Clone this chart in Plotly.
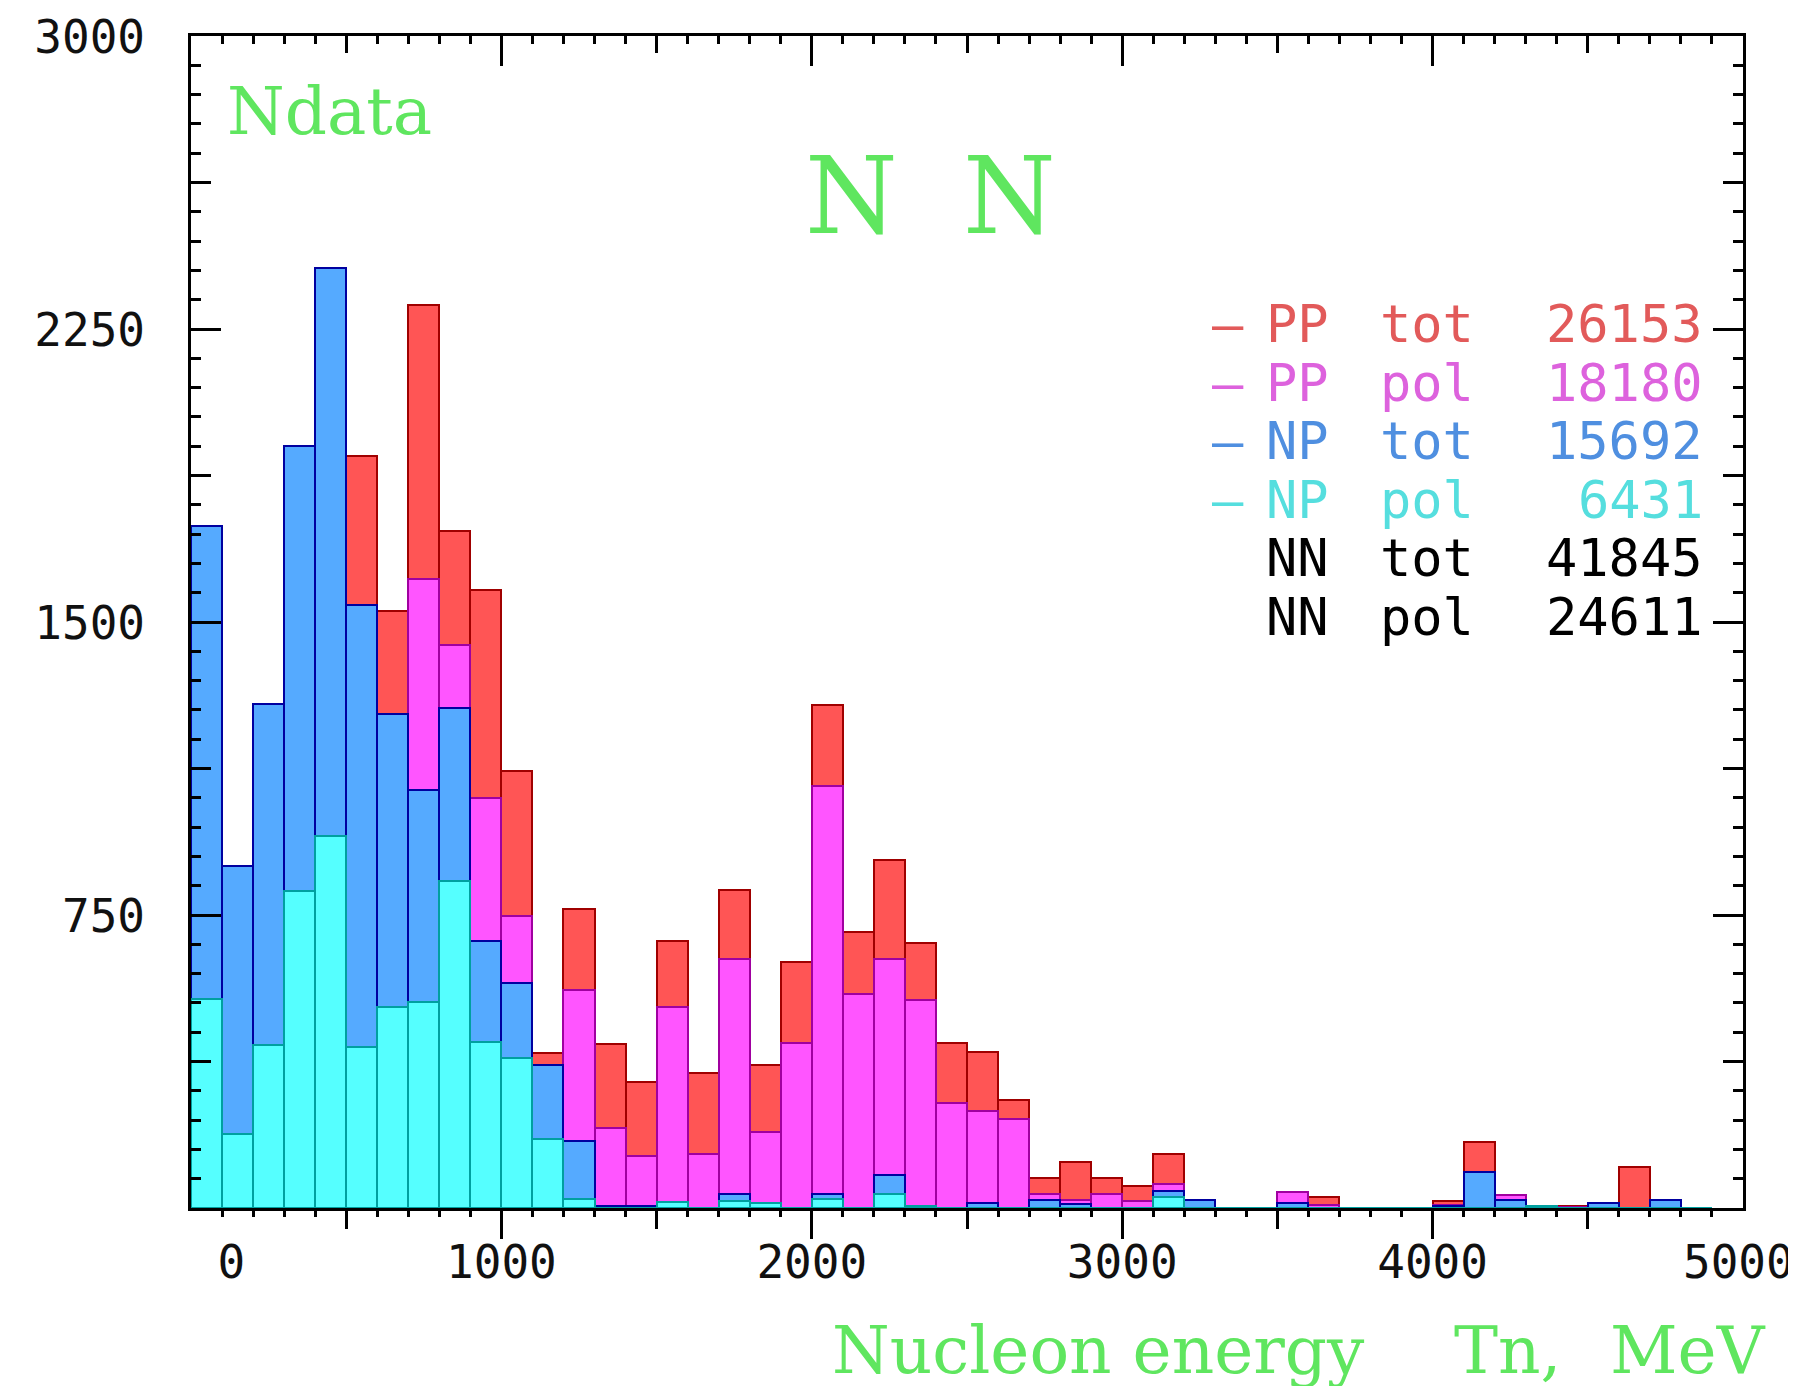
import plotly.graph_objects as go

# ---------------- data (100 MeV bins, left edges) ----------------
bin_start = list(range(0, 4900, 100))

pp_tot = [1300, 700, 1000, 1200, 1500, 1924, 1528, 2311, 1732, 1582,
          1119, 398, 765, 420, 323, 683, 345, 815, 367, 629,
          1287, 706, 891, 678, 422, 400, 276, 78, 117, 78,
          57, 139, 0, 0, 0, 40, 28, 0, 0, 0,
          19, 169, 30, 0, 4, 0, 106, 0, 0]
pp_pol = [900, 500, 800, 1100, 1300, 1100, 900, 1609, 1440, 1049,
          748, 330, 558, 204, 134, 515, 137, 637, 194, 422,
          1079, 547, 637, 532, 270, 249, 227, 37, 20, 37,
          18, 62, 0, 0, 0, 41, 8, 0, 0, 0,
          8, 50, 34, 0, 3, 0, 0, 0, 0]
np_tot = [1746, 875, 1291, 1951, 2405, 1544, 1265, 1070, 1280, 683,
          576, 366, 171, 6, 6, 0, 0, 35, 0, 0,
          35, 0, 84, 0, 0, 14, 0, 20, 9, 0,
          0, 43, 20, 0, 0, 12, 0, 0, 0, 0,
          5, 92, 21, 0, 0, 13, 0, 21, 0]
np_pol = [535, 189, 417, 812, 951, 411, 515, 528, 838, 424,
          384, 177, 23, 0, 0, 15, 0, 18, 14, 0,
          23, 0, 37, 5, 0, 0, 0, 0, 0, 0,
          0, 27, 0, 0, 0, 0, 0, 0, 0, 0,
          0, 0, 0, 5, 0, 0, 0, 0, 0]

series_names = ["PP tot", "PP pol", "NP tot", "NP pol"]
fill_colors = ["#ff5555", "#ff55ff", "#55aaff", "#55ffff"]
edge_colors = ["#a00000", "#a000a0", "#0000a0", "#00a0a0"]

x_label_vals = [130, 1000, 2000, 3000, 4000, 4985]
x_label_text = ["0", "1000", "2000", "3000", "4000", "5000"]
y_label_vals = [750, 1500, 2250, 3000]
y_label_text = ["750", "1500", "2250", "3000"]

legend_names = ["PP", "PP", "NP", "NP", "NN", "NN"]
legend_kinds = ["tot", "pol", "tot", "pol", "tot", "pol"]
legend_counts = ["26153", "18180", "15692", "6431", "41845", "24611"]
legend_colors = ["#e25a5a", "#dd62dd", "#4f8fe0", "#55dede", "#000000", "#000000"]
legend_dash = [True, True, True, True, False, False]

# ---------------- geometry ----------------
W_FIG, H_FIG = 1796, 1386
L, R, T, B = 183, 1735, 28, 1200
PW, PH = R - L, B - T


def px(p):
    return (p - L) / PW


def py(p):
    return (B - p) / PH


GREEN = "#5fe65f"
MONO = "DejaVu Sans Mono"
SERIF = "DejaVu Serif"

fig = go.Figure()
for name, vals, fc, ec in zip(series_names, [pp_tot, pp_pol, np_tot, np_pol], fill_colors, edge_colors):
    fig.add_trace(go.Bar(x=bin_start, y=vals, width=100, offset=0, name=name,
                         marker=dict(color=fc, line=dict(color=ec, width=2)),
                         showlegend=False))

# tick positions (three tick levels on each side of the frame)
x_long = [1000, 2000, 3000, 4000]
x_med = [500, 1500, 2500, 3500, 4500]
x_small = [v for v in range(100, 5000, 100)]
y_long = [750, 1500, 2250]
y_med = [375, 1125, 1875, 2625]
y_small = [v for v in range(75, 3000, 75)]

cx = dict(range=[0, 5000], showgrid=False, zeroline=False, showline=False,
          showticklabels=False, automargin=False, fixedrange=True,
          tickmode="array", tickcolor="black", tickwidth=2.5)
cy = dict(range=[0, 3000], showgrid=False, zeroline=False, showline=False,
          showticklabels=False, automargin=False, fixedrange=True,
          tickmode="array", tickcolor="black", tickwidth=2.5)

layout = dict(
    width=W_FIG, height=H_FIG, template="none",
    paper_bgcolor="white", plot_bgcolor="white",
    margin=dict(l=L, r=W_FIG - R, t=T, b=H_FIG - B, pad=0),
    barmode="overlay", bargap=0, showlegend=False,
    xaxis=dict(cx, showline=True, linecolor="black", linewidth=2.5, mirror=True,
               tickvals=x_label_vals, ticktext=x_label_text, ticks="",
               showticklabels=True, ticklabelstandoff=12, ticklabeloverflow="allow",
               tickfont=dict(family=MONO, size=46, color="#111111")),
    xaxis2=dict(cx, overlaying="x", anchor="y", side="bottom", tickvals=x_long, ticks="outside", ticklen=30),
    xaxis3=dict(cx, overlaying="x", anchor="y", side="bottom", tickvals=x_med, ticks="outside", ticklen=20),
    xaxis4=dict(cx, overlaying="x", anchor="y", side="bottom", tickvals=x_small, ticks="outside", ticklen=8),
    xaxis5=dict(cx, overlaying="x", anchor="y", side="top", tickvals=x_long, ticks="inside", ticklen=30),
    xaxis6=dict(cx, overlaying="x", anchor="y", side="top", tickvals=x_med, ticks="inside", ticklen=17),
    xaxis7=dict(cx, overlaying="x", anchor="y", side="top", tickvals=x_small, ticks="inside", ticklen=8),
    yaxis=dict(cy, showline=True, linecolor="black", linewidth=2.5, mirror=True,
               tickvals=y_label_vals, ticktext=y_label_text, ticks="inside", ticklen=30,
               showticklabels=True, ticklabelstandoff=34, ticklabelshift=1,
               ticklabeloverflow="allow",
               tickfont=dict(family=MONO, size=46, color="#111111")),
    yaxis2=dict(cy, overlaying="y", anchor="x", side="left", tickvals=y_med, ticks="inside", ticklen=20),
    yaxis3=dict(cy, overlaying="y", anchor="x", side="left", tickvals=y_small, ticks="inside", ticklen=10),
    yaxis4=dict(cy, overlaying="y", anchor="x", side="right", tickvals=y_long, ticks="inside", ticklen=30),
    yaxis5=dict(cy, overlaying="y", anchor="x", side="right", tickvals=y_med, ticks="inside", ticklen=20),
    yaxis6=dict(cy, overlaying="y", anchor="x", side="right", tickvals=y_small, ticks="inside", ticklen=10),
)
fig.update_layout(**layout)

# empty helper traces so that the overlaying tick-only axes get drawn
for xa, ya in [("x2", "y"), ("x3", "y"), ("x4", "y"), ("x5", "y"), ("x6", "y"), ("x7", "y"),
               ("x", "y2"), ("x", "y3"), ("x", "y4"), ("x", "y5"), ("x", "y6")]:
    fig.add_trace(go.Scatter(x=[None], y=[None], xaxis=xa, yaxis=ya, mode="markers",
                             showlegend=False, hoverinfo="skip"))

ann = []
ann.append(dict(text="Ndata", x=px(217), y=py(103), xanchor="left", yanchor="middle",
                font=dict(family=SERIF, size=66, color=GREEN)))
ann.append(dict(text="N", x=px(843), y=py(188), xanchor="center", yanchor="middle",
                font=dict(family=SERIF, size=106, color=GREEN)))
ann.append(dict(text="N", x=px(1001), y=py(188), xanchor="center", yanchor="middle",
                font=dict(family=SERIF, size=106, color=GREEN)))
ann.append(dict(text="Nucleon energy", x=px(822), y=py(1342), xanchor="left", yanchor="middle",
                font=dict(family=SERIF, size=66, color=GREEN)))
ann.append(dict(text="Tn,", x=px(1500), y=py(1342), xanchor="center", yanchor="middle",
                font=dict(family=SERIF, size=66, color=GREEN)))
ann.append(dict(text="MeV", x=px(1760), y=py(1342), xanchor="right", yanchor="middle",
                font=dict(family=SERIF, size=66, color=GREEN)))

row_y0, row_step = 316, 58.6
for i, (nm, kd, ct, col, dash) in enumerate(zip(legend_names, legend_kinds, legend_counts,
                                                  legend_colors, legend_dash)):
    yy = py(row_y0 + i * row_step)
    f = dict(family=MONO, size=52, color=col)
    if dash:
        ann.append(dict(text="\u2014", x=px(1220), y=yy, xanchor="center", yanchor="middle", font=f))
    ann.append(dict(text=nm, x=px(1256), y=yy, xanchor="left", yanchor="middle", font=f))
    ann.append(dict(text=kd, x=px(1370), y=yy, xanchor="left", yanchor="middle", font=f))
    ann.append(dict(text=ct, x=px(1697), y=yy, xanchor="right", yanchor="middle", font=f))

for a in ann:
    a.update(xref="paper", yref="paper", showarrow=False)
fig.update_layout(annotations=ann)

fig.write_html("out.html")
